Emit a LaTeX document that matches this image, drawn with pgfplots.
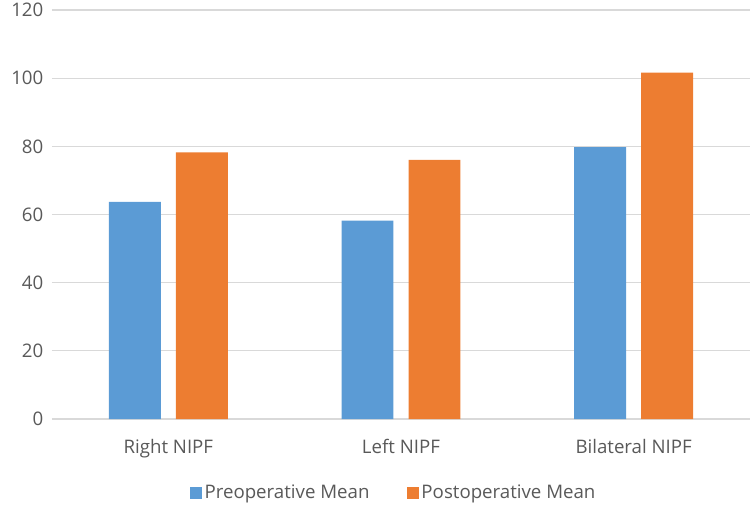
\documentclass[border=0pt]{standalone}
\usepackage{pgfplots}
\pgfplotsset{compat=1.18}
\usepackage{fontspec}
\setmainfont{Open Sans}
\definecolor{cblue}{HTML}{5B9BD5}
\definecolor{corange}{HTML}{ED7D31}
\definecolor{cgrid}{HTML}{D9D9D9}
\definecolor{ctext}{HTML}{595959}
\begin{document}
\begin{tikzpicture}
\begin{axis}[
  scale only axis,
  width=523.5pt, height=306.75pt,
  xmin=-0.5, xmax=2.5,
  ymin=0, ymax=120,
  ytick={0,20,...,120},
  xtick={0,1,2},
  xticklabels={Right NIPF, Left NIPF, Bilateral NIPF},
  ymajorgrids,
  grid style={cgrid, line width=0.8pt},
  axis line style={draw=none},
  major tick length=0pt,
  tick label style={font=\fontsize{14}{16}\selectfont, text=ctext},
  /pgf/number format/assume math mode=true,
  yticklabel style={xshift=-3pt},
  xticklabel style={yshift=-12pt},
  ybar, bar width=0.223,
  legend style={draw=none, at={(0.49,-0.181)}, anchor=center,
    legend columns=2, font=\fontsize{14}{16}\selectfont, text=ctext,
    /tikz/every even column/.append style={column sep=26pt}},
  legend image code/.code={\fill[#1] (0pt,-4.5pt) rectangle (9pt,4.5pt);},
]
\addplot[fill=cblue, draw=none, bar shift=-0.144] coordinates {(0,63.7) (1,58.2) (2,79.8)};
\addplot[fill=corange, draw=none, bar shift=0.144] coordinates {(0,78.2) (1,76.0) (2,101.6)};
\legend{Preoperative Mean, Postoperative Mean}
\end{axis}
\pgfresetboundingbox
\path[use as bounding box] (-39pt,-66.75pt) rectangle (523.5pt,314.25pt);
\end{tikzpicture}
\end{document}
